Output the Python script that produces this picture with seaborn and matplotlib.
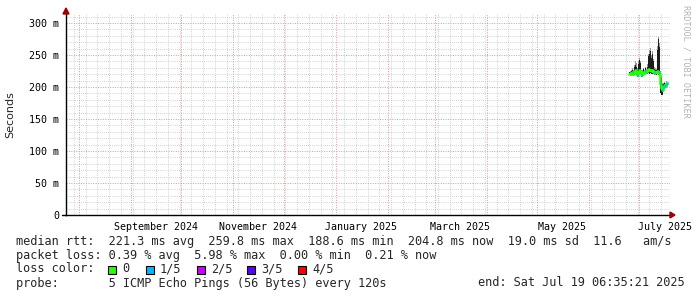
import matplotlib
matplotlib.use("Agg")
import matplotlib.pyplot as plt
import seaborn as sns
import pandas as pd
import numpy as np
from matplotlib.patches import Rectangle

# ---------------- data ----------------
range_start = pd.Timestamp("2024-07-24 06:35:21")
range_end = pd.Timestamp("2025-07-19 06:35:21")

data_start = pd.Timestamp("2025-06-24 18:00")
# median rtt (ms)
median_ms = [221, 222, 220, 223, 221, 224, 226, 224, 219, 223,
             227, 225, 218, 221, 224, 222, 225, 223, 226, 228,
             226, 227, 225, 226, 224, 222, 224, 223, 225, 224,
             221, 205, 198, 196, 200, 203, 202, 205, 206]
# smoke range (ms)
smoke_lo = [219, 219, 218, 219, 218, 220, 221, 219, 216, 219,
            221, 220, 215, 218, 220, 219, 221, 220, 221, 222,
            221, 222, 220, 221, 220, 219, 220, 219, 220, 219,
            218, 190, 187, 188, 194, 198, 198, 200, 202]
smoke_mid = [223, 224, 225, 227, 224, 231, 234, 232, 226, 236,
             242, 238, 222, 224, 228, 225, 229, 226, 232, 248,
             252, 256, 246, 252, 240, 228, 227, 226, 258, 275,
             262, 222, 214, 204, 205, 206, 205, 207, 208]
smoke_hi = [224, 225, 227, 229, 226, 235, 240, 237, 229, 240,
            246, 241, 224, 226, 230, 227, 231, 228, 236, 252,
            258, 261, 250, 256, 244, 231, 229, 228, 264, 278,
            268, 225, 217, 206, 207, 208, 207, 209, 210]
# lost pings out of 5
loss = [0, 0, 0, 1, 0, 0, 0, 0, 1, 0,
        0, 0, 1, 0, 0, 0, 1, 0, 0, 0,
        0, 0, 0, 0, 0, 1, 0, 0, 0, 1,
        0, 1, 0, 1, 1, 1, 1, 1, 1]

loss_colors = ["#26ff00", "#00b8ff", "#c800ff", "#5a00ff", "#ff0000"]
loss_labels = ["0", "1/5", "2/5", "3/5", "4/5"]

x_labels = ["September 2024", "November 2024", "January 2025",
            "March 2025", "May 2025", "July 2025"]
x_label_months = ["2024-09-01", "2024-11-01", "2025-01-01",
                  "2025-03-01", "2025-05-01", "2025-07-01"]
y_ticks = [0, 0.05, 0.10, 0.15, 0.20, 0.25, 0.30]
y_labels = ["0", "50 m", "100 m", "150 m", "200 m", "250 m", "300 m"]

stats_lines = [
    "median rtt:  221.3 ms avg  259.8 ms max  188.6 ms min  204.8 ms now  19.0 ms sd  11.6   am/s",
    "packet loss: 0.39 % avg  5.98 % max  0.00 % min  0.21 % now",
]
probe_line = "probe:       5 ICMP Echo Pings (56 Bytes) every 120s"
end_line = "end: Sat Jul 19 06:35:21 2025"

# ---------------- build frame ----------------
n = len(median_ms)
times = pd.date_range(data_start, periods=n, freq="14h20min")
df = pd.DataFrame({
    "time": times,
    "median": np.array(median_ms) / 1000.0,
    "lo": np.array(smoke_lo) / 1000.0,
    "mid": np.array(smoke_mid) / 1000.0,
    "hi": np.array(smoke_hi) / 1000.0,
    "loss": loss,
})

sns.set_style("white")
plt.rcParams["font.family"] = ["DejaVu Sans Mono", "DejaVu Sans"]

W, H = 697, 297
fig = plt.figure(figsize=(W / 100, H / 100), dpi=100)
fig.patch.set_facecolor("white")
ax = fig.add_axes([66 / W, 82 / H, 604 / W, 201 / H])
ax.set_facecolor("white")

ax.set_xlim(range_start, range_end)
ax.set_ylim(0, 201 / 0.64 / 1000.0)

# ---------------- grid ----------------
minor_c = "#c4c4c4"
major_c = "#e39a9a"
for v in np.arange(0.01, 0.32, 0.01):
    if round(v * 1000) % 50 == 0:
        continue
    ax.axhline(v, color=minor_c, lw=0.6, ls=(0, (1, 1.5)), zorder=0)
for wk in pd.date_range("2024-07-29", range_end, freq="7D"):
    ax.axvline(wk, color=minor_c, lw=0.6, ls=(0, (1, 1.5)), zorder=0)
for v in y_ticks[1:]:
    ax.axhline(v, color=major_c, lw=0.7, ls=(0, (1, 1.5)), zorder=0.5)
for ms in pd.date_range("2024-08-01", range_end, freq="MS"):
    ax.axvline(ms, color=major_c, lw=0.7, ls=(0, (1, 1.5)), zorder=0.5)

# ---------------- smoke ----------------
ax.fill_between(df["time"], df["lo"], df["hi"], step="post",
                color="#9a9a9a", lw=0, zorder=2)
ax.fill_between(df["time"], df["lo"], df["mid"], step="post",
                color="#1c1c1c", lw=0, zorder=3)

# ---------------- median line ----------------
sns.lineplot(data=df, x="time", y="median", ax=ax, color=loss_colors[0],
             lw=1.8, drawstyle="steps-post", zorder=4)
step = times[1] - times[0]
for t, m, l in zip(df["time"], df["median"], df["loss"]):
    if l > 0:
        ax.hlines(m, t, t + step, color=loss_colors[l], lw=2.0, zorder=5)

# ---------------- axes ----------------
for s in ["top", "right"]:
    ax.spines[s].set_visible(False)
for s in ["left", "bottom"]:
    ax.spines[s].set_color("black")
    ax.spines[s].set_linewidth(1.0)
    ax.spines[s].set_zorder(6)

ax.set_yticks(y_ticks)
ax.set_yticklabels(y_labels)
label_pos = [pd.Timestamp(m) + pd.Timedelta(days=15) for m in x_label_months]
ax.set_xticks(label_pos)
ax.set_xticklabels(x_labels)
ax.tick_params(axis="both", length=0, labelsize=7.2, colors="black", pad=5)
ax.set_xlabel("")
ax.set_ylabel("Seconds", family="DejaVu Sans", fontsize=8, labelpad=8)
ax.yaxis.set_label_coords(-51 / 604, 0.5)

# arrows
fig.patches.append(plt.Polygon([[63 / W, 1 - 14 / H], [69 / W, 1 - 14 / H], [66 / W, 1 - 8 / H]],
                               closed=True, transform=fig.transFigure, color="#a00000", zorder=10))
fig.patches.append(plt.Polygon([[670 / W, 1 - 212 / H], [670 / W, 1 - 218 / H], [675 / W, 1 - 215 / H]],
                               closed=True, transform=fig.transFigure, color="#a00000", zorder=10))
fig.lines.append(plt.Line2D([62 / W, 66 / W], [1 - 215 / H, 1 - 215 / H], transform=fig.transFigure,
                            color="black", lw=1.0))

# watermark
fig.text(686 / W, 1 - 5 / H, "RRDTOOL / TOBI OETIKER", rotation=270, va="top", ha="center",
         fontsize=6.1, color="#b4b4b4")

# ---------------- bottom text ----------------
fs = 8.6
for i, line in enumerate(stats_lines):
    fig.text(16 / W, 1 - (241 + 14 * i) / H, line, fontsize=fs, va="center", ha="left")
fig.text(16 / W, 1 - 269 / H, "loss color:", fontsize=fs, va="center", ha="left")
sq_x = [108, 146, 197, 247, 298]
txt_x = [122, 160, 211, 261, 312]
for c, lab, sx, tx in zip(loss_colors, loss_labels, sq_x, txt_x):
    fig.patches.append(Rectangle((sx / W, 1 - 273.5 / H), 8 / W, 8 / H, transform=fig.transFigure,
                                 facecolor=c, edgecolor="black", lw=0.8))
    fig.text(tx / W, 1 - 269 / H, lab, fontsize=fs, va="center", ha="left")
fig.text(16 / W, 1 - 283 / H, probe_line, fontsize=fs, va="center", ha="left")
fig.text(478 / W, 1 - 283 / H, end_line, fontsize=fs, va="center", ha="left")

fig.savefig("out.png", dpi=100, facecolor="white")
